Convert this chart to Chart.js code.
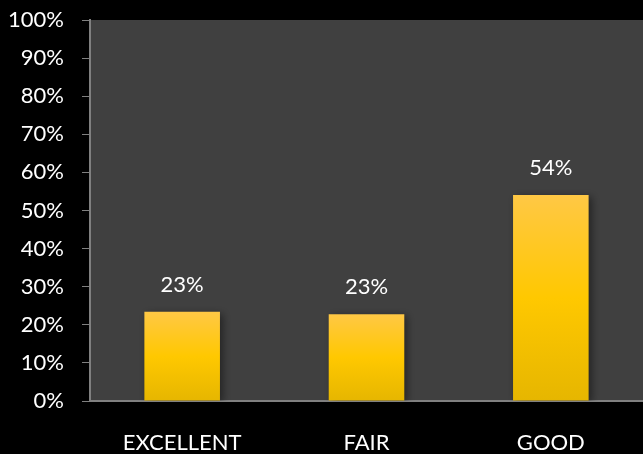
<!DOCTYPE html>
<html>
<head>
<meta charset="utf-8">
<script src="https://cdn.jsdelivr.net/npm/chart.js@4/dist/chart.umd.min.js"></script>
<style>
  html, body { margin: 0; padding: 0; background: #000; }
  #wrap { width: 643px; height: 454px; }
</style>
</head>
<body>
<div id="wrap"><canvas id="rating_chart"></canvas></div>
<script>
const categories = ['EXCELLENT', 'FAIR', 'GOOD'];
const percentValues = [23.4, 22.8, 54.1];
const valueLabels = ['23%', '23%', '54%'];

// grey plot area behind the bars
const plotBackground = {
    id: 'plotBackground',
    beforeDraw(chart) {
        const {ctx, chartArea} = chart;
        ctx.save();
        ctx.fillStyle = '#404040';
        ctx.fillRect(chartArea.left, chartArea.top, chartArea.right - chartArea.left, chartArea.bottom - chartArea.top);
        ctx.restore();
    }
};

// value text above every bar
const barLabels = {
    id: 'barLabels',
    afterDatasetsDraw(chart) {
        const ctx = chart.ctx;
        const meta = chart.getDatasetMeta(0);
        ctx.save();
        ctx.font = '22px Lato';
        ctx.fillStyle = '#ffffff';
        ctx.textAlign = 'center';
        ctx.textBaseline = 'middle';
        meta.data.forEach(function (bar, i) {
            ctx.fillText(valueLabels[i], bar.x, bar.y - 27);
        });
        ctx.restore();
    }
};

// soft shadow on the bars
const barShadow = {
    id: 'barShadow',
    beforeDatasetsDraw(chart) {
        chart.ctx.save();
        chart.ctx.shadowColor = 'rgba(0,0,0,0.45)';
        chart.ctx.shadowBlur = 8;
        chart.ctx.shadowOffsetX = 3;
        chart.ctx.shadowOffsetY = 2;
    },
    afterDatasetsDraw(chart) {
        chart.ctx.restore();
    }
};

function barGradient(context) {
    const chart = context.chart;
    if (!chart.chartArea) return '#ffc800';
    const y = chart.scales.y;
    const top = y.getPixelForValue(context.raw);
    const bottom = y.getPixelForValue(0);
    const g = chart.ctx.createLinearGradient(0, top, 0, bottom);
    g.addColorStop(0, '#ffc845');
    g.addColorStop(0.5, '#ffc800');
    g.addColorStop(1, '#e6b600');
    return g;
}

const data = {
    labels: categories,
    datasets: [{
        data: percentValues,
        backgroundColor: barGradient,
        borderWidth: 0,
        categoryPercentage: 1.0,
        barPercentage: 0.41
    }]
};

const config = {
    type: 'bar',
    data: data,
    options: {
        responsive: true,
        maintainAspectRatio: false,
        animation: false,
        layout: {
            padding: { top: 20, right: 0, left: 0, bottom: 0 }
        },
        scales: {
            y: {
                min: 0, max: 100,
                afterFit: function (scale) {
                    scale.width = 90;
                    scale.paddingTop = 0;
                    scale.paddingBottom = 0;
                },
                ticks: {
                    stepSize: 10,
                    color: '#ffffff',
                    padding: 18,
                    font: { family: 'Lato', size: 22 },
                    callback: function (v) { return v + '%'; }
                },
                grid: {
                    drawOnChartArea: false,
                    color: '#808080',
                    tickLength: 8
                },
                border: { color: '#808080', width: 2 }
            },
            x: {
                afterFit: function (scale) { scale.height = 53; },
                ticks: {
                    color: '#ffffff',
                    padding: 29,
                    font: { family: 'Lato', size: 22 }
                },
                grid: { display: false, drawTicks: false },
                border: { color: '#808080', width: 2 }
            }
        },
        plugins: {
            legend: { display: false },
            tooltip: { enabled: false }
        }
    },
    plugins: [plotBackground, barShadow, barLabels]
};

const myChart = new Chart(document.getElementById('rating_chart'), config);
</script>
</body>
</html>
